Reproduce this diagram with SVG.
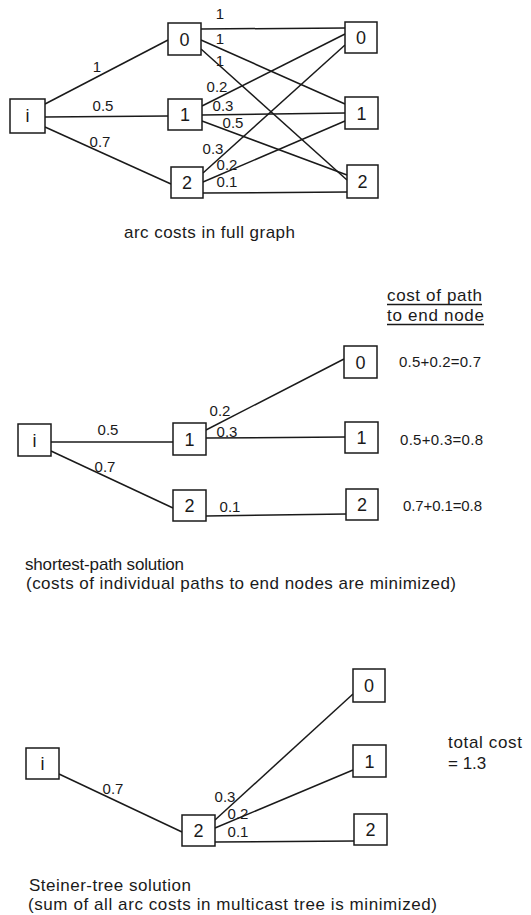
<svg xmlns="http://www.w3.org/2000/svg" width="531" height="915" viewBox="0 0 531 915">
<style>
.box{fill:#fff;stroke:#1a1a1a;stroke-width:1.5}
.e{stroke:#1a1a1a;stroke-width:1.5;fill:none}
.nl{font-family:"Liberation Sans",Arial,sans-serif;font-size:18px;fill:#1a1a1a;text-anchor:middle}
.el{font-family:"Liberation Sans",Arial,sans-serif;font-size:15px;fill:#1a1a1a;text-anchor:middle}
.cap{font-family:"Liberation Sans",Arial,sans-serif;font-size:17px;fill:#1a1a1a}
.ct{font-family:"Liberation Sans",Arial,sans-serif;font-size:15px;fill:#1a1a1a}
</style>
<rect width="531" height="915" fill="#fff"/>

<!-- ===== Top: full graph ===== -->
<g id="connectors-top">
<line class="e" x1="45" y1="104" x2="168" y2="40"/>
<line class="e" x1="45" y1="117" x2="168" y2="116"/>
<line class="e" x1="45" y1="127" x2="171" y2="184"/>
<line class="e" x1="201" y1="29" x2="345" y2="28"/>
<line class="e" x1="201" y1="40" x2="345" y2="104"/>
<line class="e" x1="201" y1="49" x2="347" y2="180"/>
<line class="e" x1="202" y1="106" x2="345" y2="34"/>
<line class="e" x1="202" y1="115" x2="345" y2="113"/>
<line class="e" x1="202" y1="121" x2="347" y2="175"/>
<line class="e" x1="203" y1="173" x2="345" y2="45"/>
<line class="e" x1="203" y1="182" x2="345" y2="121"/>
<line class="e" x1="203" y1="193" x2="347" y2="192"/>
</g>
<g id="edge-labels-top">
<text class="el" x="97" y="72">1</text>
<text class="el" x="103" y="111">0.5</text>
<text class="el" x="100" y="147">0.7</text>
<text class="el" x="220" y="19">1</text>
<text class="el" x="220" y="44">1</text>
<text class="el" x="220" y="66">1</text>
<text class="el" x="217" y="92">0.2</text>
<text class="el" x="223" y="111">0.3</text>
<text class="el" x="233" y="128">0.5</text>
<text class="el" x="213" y="154">0.3</text>
<text class="el" x="227" y="170">0.2</text>
<text class="el" x="227" y="187">0.1</text>
</g>
<g id="t-i"><rect class="box" x="10" y="99" width="35" height="34"/><text class="nl" x="27.5" y="122">i</text></g>
<g id="t-m0"><rect class="box" x="168" y="23" width="33" height="32"/><text class="nl" x="184.5" y="45.5">0</text></g>
<g id="t-m1"><rect class="box" x="168" y="99" width="34" height="31"/><text class="nl" x="185" y="121">1</text></g>
<g id="t-m2"><rect class="box" x="171" y="167" width="32" height="31"/><text class="nl" x="187" y="189">2</text></g>
<g id="t-r0"><rect class="box" x="345" y="22" width="32" height="31"/><text class="nl" x="361" y="44">0</text></g>
<g id="t-r1"><rect class="box" x="345" y="97" width="33" height="32"/><text class="nl" x="361.5" y="119.5">1</text></g>
<g id="t-r2"><rect class="box" x="347" y="165" width="31" height="33"/><text class="nl" x="362.5" y="188">2</text></g>
<text class="cap" x="124" y="238" textLength="171" lengthAdjust="spacing">arc costs in full graph</text>

<!-- ===== Middle: shortest-path ===== -->
<g id="connectors-mid">
<line class="e" x1="51" y1="442" x2="173" y2="442"/>
<line class="e" x1="51" y1="451" x2="173" y2="508"/>
<line class="e" x1="206" y1="430" x2="344" y2="359"/>
<line class="e" x1="206" y1="438" x2="345" y2="437"/>
<line class="e" x1="206" y1="516" x2="346" y2="514"/>
</g>
<g id="edge-labels-mid">
<text class="el" x="108" y="435">0.5</text>
<text class="el" x="105" y="472">0.7</text>
<text class="el" x="220" y="416">0.2</text>
<text class="el" x="227" y="437">0.3</text>
<text class="el" x="230" y="512">0.1</text>
</g>
<g id="s-i"><rect class="box" x="18" y="424" width="33" height="32"/><text class="nl" x="34.5" y="446.5">i</text></g>
<g id="s-m1"><rect class="box" x="173" y="423" width="33" height="32"/><text class="nl" x="189.5" y="445.5">1</text></g>
<g id="s-m2"><rect class="box" x="173" y="490" width="33" height="31"/><text class="nl" x="189.5" y="512">2</text></g>
<g id="s-r0"><rect class="box" x="344" y="346" width="33" height="32"/><text class="nl" x="360.5" y="368.5">0</text></g>
<g id="s-r1"><rect class="box" x="345" y="422" width="33" height="31"/><text class="nl" x="361.5" y="444">1</text></g>
<g id="s-r2"><rect class="box" x="346" y="489" width="32" height="31"/><text class="nl" x="362" y="511">2</text></g>
<g id="cost-header">
<text class="cap" x="387" y="301" textLength="95" lengthAdjust="spacing">cost of path</text>
<line class="e" x1="387" y1="304.5" x2="482" y2="304.5" stroke-width="1.2"/>
<text class="cap" x="387" y="321" textLength="97" lengthAdjust="spacing">to end node</text>
<line class="e" x1="387" y1="324.5" x2="484" y2="324.5" stroke-width="1.2"/>
</g>
<text class="ct" x="399" y="367" textLength="82" lengthAdjust="spacing">0.5+0.2=0.7</text>
<text class="ct" x="400" y="445" textLength="83" lengthAdjust="spacing">0.5+0.3=0.8</text>
<text class="ct" x="403" y="511" textLength="79" lengthAdjust="spacing">0.7+0.1=0.8</text>
<text class="cap" x="25" y="570" textLength="159" lengthAdjust="spacing">shortest-path solution</text>
<text class="cap" x="26" y="589" textLength="430" lengthAdjust="spacing">(costs of individual paths to end nodes are minimized)</text>

<!-- ===== Bottom: Steiner tree ===== -->
<g id="connectors-bot">
<line class="e" x1="59" y1="774" x2="182" y2="832"/>
<line class="e" x1="215" y1="820" x2="353" y2="694"/>
<line class="e" x1="215" y1="828" x2="353" y2="770"/>
<line class="e" x1="215" y1="842" x2="354" y2="841"/>
</g>
<g id="edge-labels-bot">
<text class="el" x="113" y="794">0.7</text>
<text class="el" x="225" y="802">0.3</text>
<text class="el" x="238" y="819">0.2</text>
<text class="el" x="238" y="837">0.1</text>
</g>
<g id="b-i"><rect class="box" x="26" y="748" width="33" height="31"/><text class="nl" x="42.5" y="770">i</text></g>
<g id="b-m2"><rect class="box" x="182" y="815" width="33" height="31"/><text class="nl" x="198.5" y="837">2</text></g>
<g id="b-r0"><rect class="box" x="353" y="669" width="32" height="33"/><text class="nl" x="369" y="692">0</text></g>
<g id="b-r1"><rect class="box" x="353" y="745" width="33" height="32"/><text class="nl" x="369.5" y="767.5">1</text></g>
<g id="b-r2"><rect class="box" x="354" y="814" width="33" height="31"/><text class="nl" x="370.5" y="836">2</text></g>
<text class="cap" x="448" y="748" textLength="74" lengthAdjust="spacing">total cost</text>
<text class="cap" x="448" y="769">= 1.3</text>
<text class="cap" x="29" y="891" textLength="162" lengthAdjust="spacing">Steiner-tree solution</text>
<text class="cap" x="28" y="910" textLength="409" lengthAdjust="spacing">(sum of all arc costs in multicast tree is minimized)</text>
</svg>
